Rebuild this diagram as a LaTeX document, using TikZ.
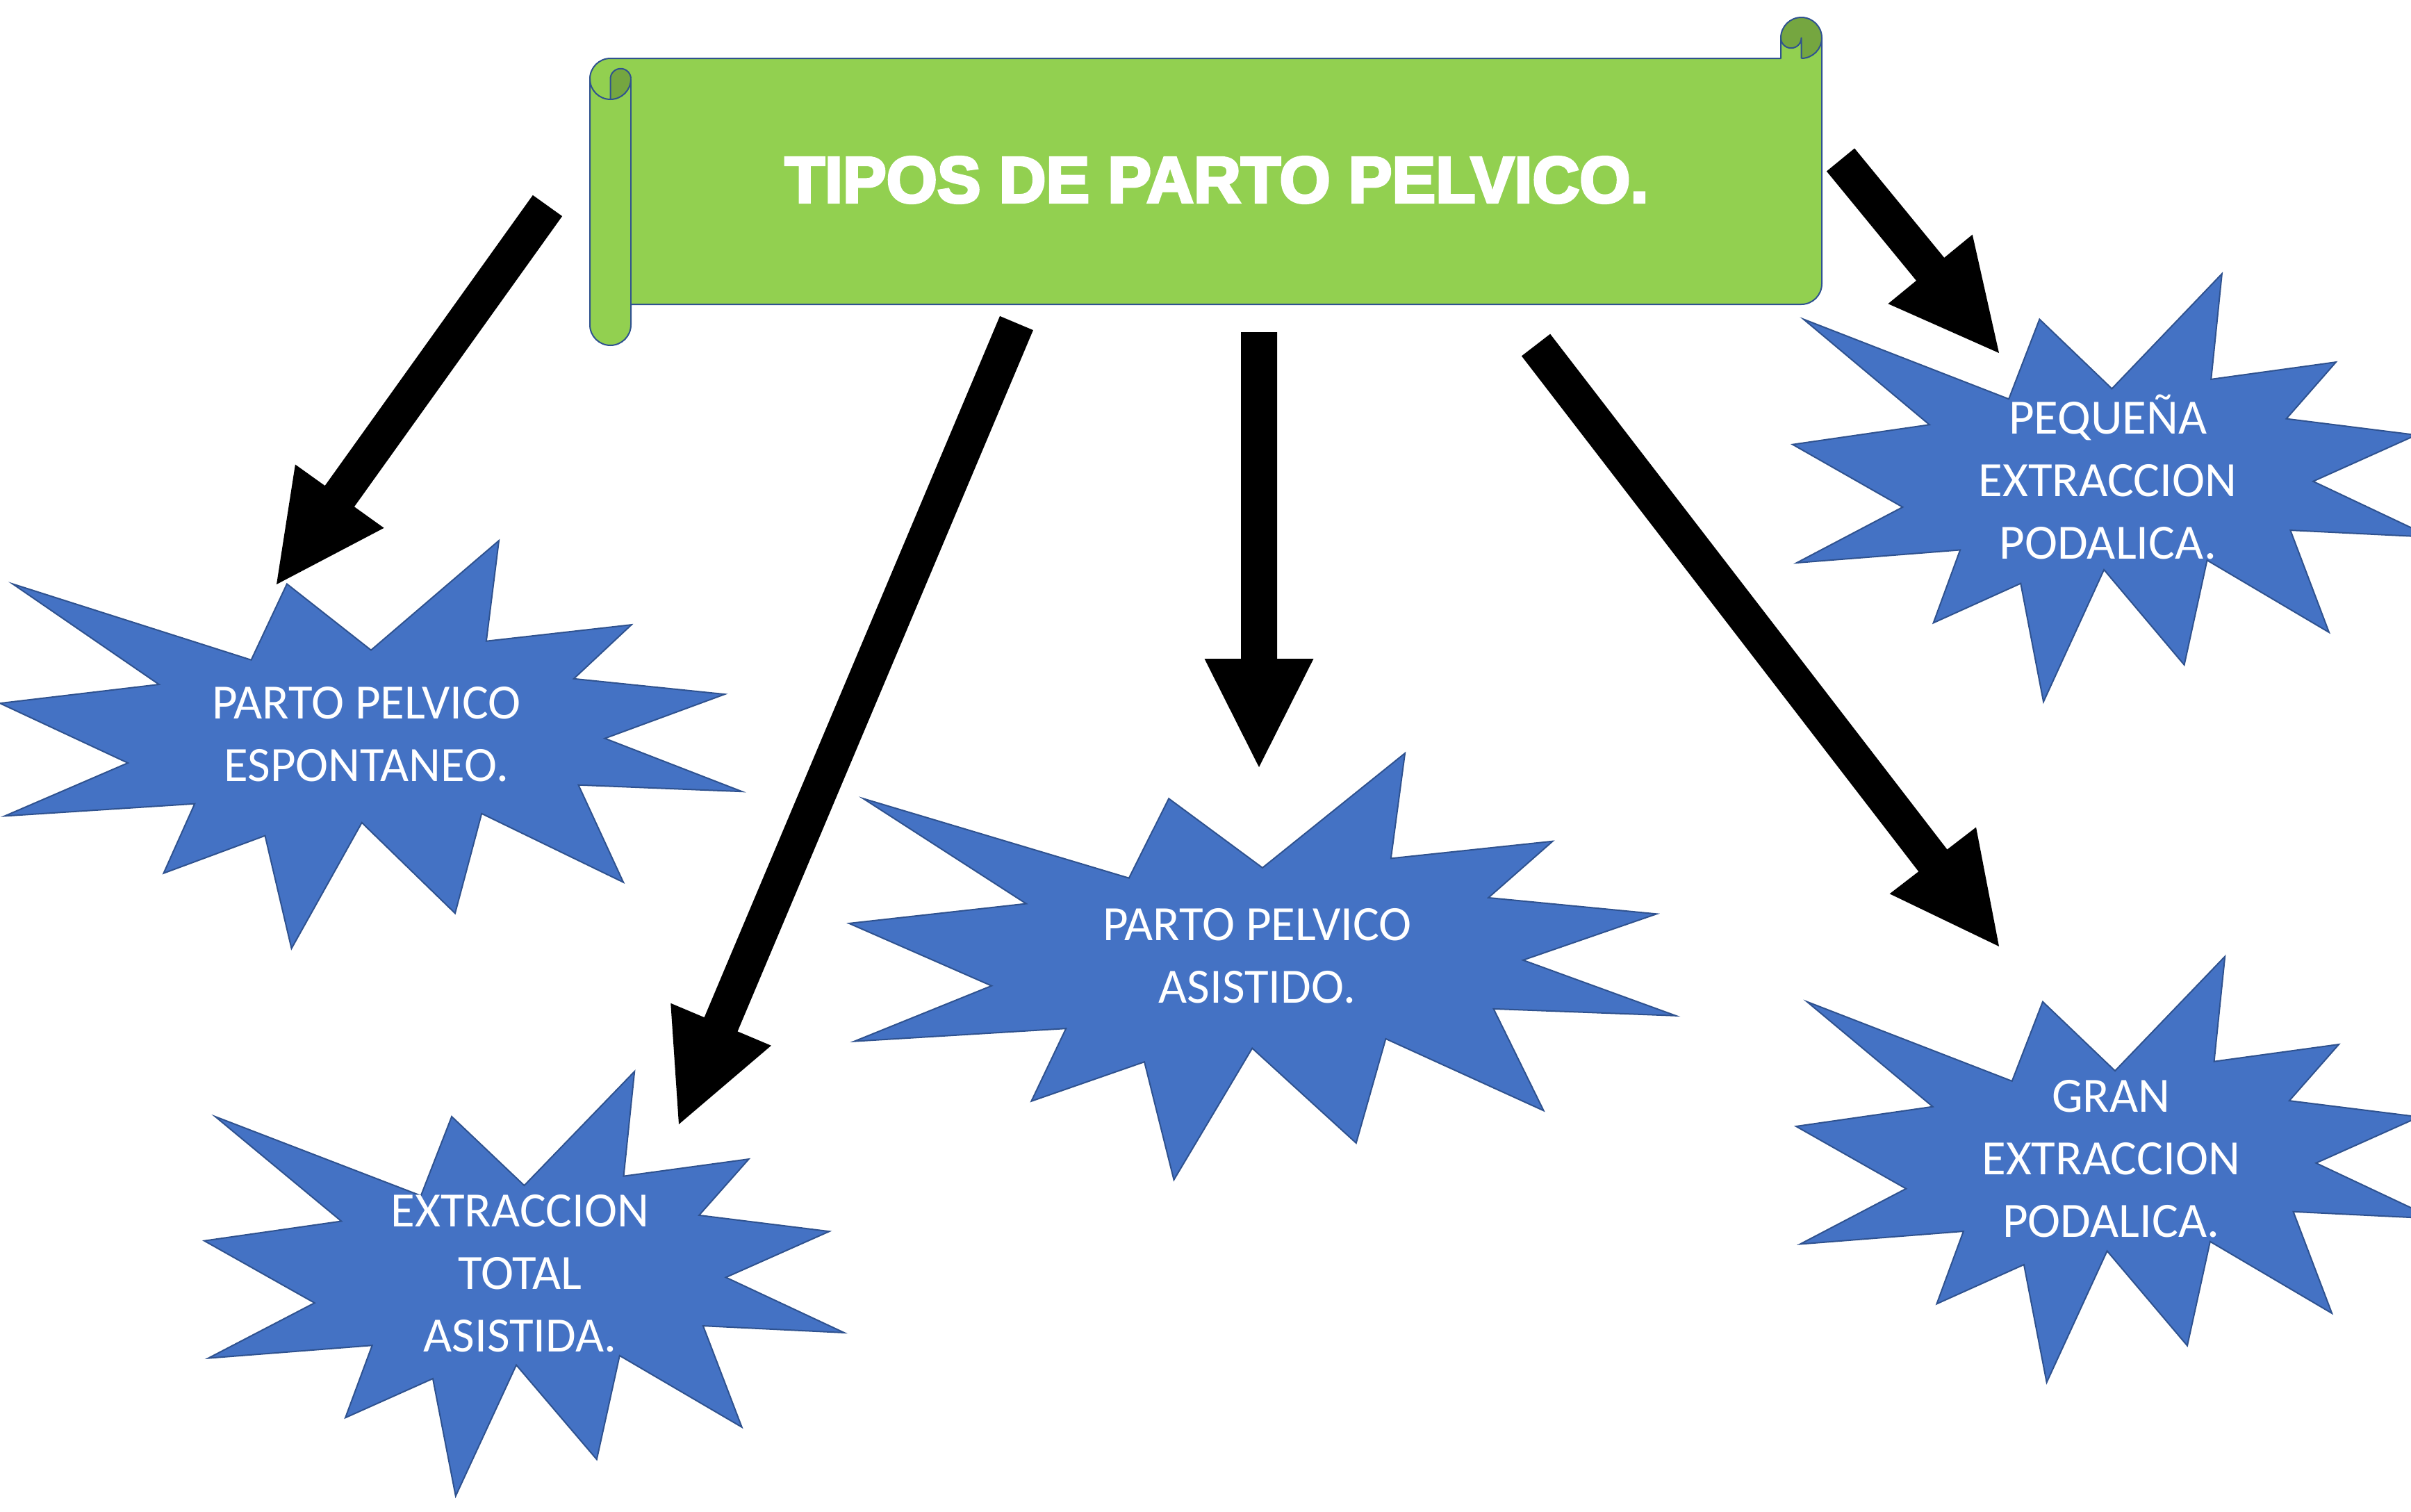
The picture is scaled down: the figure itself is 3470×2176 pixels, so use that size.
\documentclass[tikz,border=0pt]{standalone}
\usepackage{fontspec}
\usetikzlibrary{calc}
\newfontfamily\starfont{Carlito}
\newfontfamily\titlefont{Liberation Sans}[BoldFeatures={FakeBold=4}]
\definecolor{starblue}{HTML}{4472C4}
\definecolor{edgeblue}{HTML}{2F528F}
\definecolor{scrollgreen}{HTML}{92D050}
\definecolor{scrolldark}{HTML}{75A640}
\tikzset{
  sealshape/.style={fill=starblue, draw=edgeblue, line width=2pt, line join=miter},
  startext/.style={text=white, font=\starfont\fontsize{71}{90}\selectfont, align=center, inner sep=0pt, yshift=-4pt},
  titletext/.style={text=white, font=\titlefont\bfseries\fontsize{94}{110}\selectfont, inner sep=0pt},
  scrollfill/.style={fill=scrollgreen},
  scrolldarkfill/.style={fill=scrolldark},
  scrolledge/.style={draw=edgeblue, line width=2pt, line join=round},
  blockarrow/.style={fill=black},
}
% explosion shape in a 216 x 216 box, scaled to width #3 and height #4 at (#1,#2)
\newcommand\sealshape[4]{%
  \begin{scope}[shift={(#1,#2)}, xscale=#3/216, yscale=#4/216]
    \path[sealshape] (108,58) -- (145.22,0) -- (141.55,53.25) -- (183.80,44.57)
      -- (167.02,73.15) -- (210.97,81.37) -- (176.07,104.75) -- (216,132.90)
      -- (168.37,129.42) -- (181.45,180.95) -- (140.20,144.57) -- (132.47,197.37)
      -- (105.32,149.35) -- (84.85,216) -- (77.15,156.27) -- (47.62,176.17)
      -- (56.67,139.37) -- (1.35,145.87) -- (37.22,117.75) -- (0,86.15)
      -- (46.27,76.17) -- (3.70,22.95) -- (73.12,63.20) -- (83.52,22.95) -- cycle;
  \end{scope}}
% block arrow from coordinate #1 (tail) to coordinate #2 (tip)
\newcommand\barrow[2]{%
  \coordinate (#1h) at ($(#2)!156pt!(#1)$);
  \fill[blockarrow] ($(#1)!26pt!90:(#2)$) -- ($(#1h)!26pt!90:(#2)$)
    -- ($(#1h)!78.5pt!90:(#2)$) -- (#2) -- ($(#1h)!78.5pt!-90:(#2)$)
    -- ($(#1h)!26pt!-90:(#2)$) -- ($(#1)!26pt!-90:(#2)$) -- cycle;}
\begin{document}
\begin{tikzpicture}[x=1pt, y=-1pt]
\useasboundingbox (0,0) rectangle (3470,2176);
\clip (0,0) rectangle (3470,2176);

% ---------- scroll banner ----------
\path[scrollfill] (878.5,497) arc[start angle=90,end angle=180,radius=29.5]
  -- (849,113.5) arc[start angle=180,end angle=270,radius=29.5]
  -- (2563,84) -- (2563,54.5) arc[start angle=180,end angle=360,radius=29.5]
  -- (2622,408.5) arc[start angle=0,end angle=90,radius=29.5]
  -- (908,438) -- (908,467.5) arc[start angle=0,end angle=90,radius=29.5] -- cycle;
\path[scrolldarkfill] (878.5,113.5) arc[start angle=180,end angle=360,radius=14.75]
  arc[start angle=0,end angle=90,radius=29.5] -- cycle;
\path[scrolldarkfill] (2563,54.5) arc[start angle=180,end angle=360,radius=29.5]
  arc[start angle=0,end angle=90,radius=29.5] -- (2592.5,54.5)
  arc[start angle=0,end angle=180,radius=14.75] -- cycle;
\path[scrolledge] (878.5,497) arc[start angle=90,end angle=180,radius=29.5]
  -- (849,113.5) arc[start angle=180,end angle=270,radius=29.5]
  -- (2563,84) -- (2563,54.5) arc[start angle=180,end angle=360,radius=29.5]
  -- (2622,408.5) arc[start angle=0,end angle=90,radius=29.5]
  -- (908,438) -- (908,467.5) arc[start angle=0,end angle=90,radius=29.5] -- cycle;
\path[scrolledge] (908,113.5) -- (908,438);
\path[scrolledge] (849,113.5) arc[start angle=180,end angle=0,radius=29.5];
\path[scrolledge] (878.5,143) -- (878.5,113.5) arc[start angle=180,end angle=360,radius=14.75];
\path[scrolledge] (2563,54.5) arc[start angle=180,end angle=0,radius=14.75] -- (2592.5,84);
\path[scrolledge] (2622,54.5) arc[start angle=0,end angle=90,radius=29.5];
\node[titletext] (title) at (1751,259) {TIPOS DE PARTO PELVICO.};

% ---------- explosions ----------
\sealshape{0}{778}{1068}{587}
\sealshape{1222}{1084}{1190}{614}
\sealshape{2580}{394}{919}{616}
\sealshape{294}{1542}{921}{611}
\sealshape{2585}{1376.5}{918}{613}

\node[startext] (espontaneo) at (527.3,1053.2) {PARTO PELVICO\\ESPONTANEO.};
\node[startext] (asistido) at (1809.5,1371.9) {PARTO PELVICO\\ASISTIDO.};
\node[startext] (pequena) at (3033.7,682.8) {PEQUEÑA\\EXTRACCION\\PODALICA.};
\node[startext] (total) at (748.7,1828.5) {EXTRACCION\\TOTAL\\ASISTIDA.};
\node[startext] (gran) at (3038.2,1663.9) {GRAN\\EXTRACCION\\PODALICA.};

% ---------- block arrows ----------
\coordinate (a1s) at (788,296);    \coordinate (a1t) at (398,841);
\coordinate (a2s) at (1463,465);   \coordinate (a2t) at (977,1618);
\coordinate (a3s) at (1812,478);   \coordinate (a3t) at (1812,1104);
\coordinate (a4s) at (2210.5,496.5); \coordinate (a4t) at (2877,1362);
\coordinate (a5s) at (2649,230);   \coordinate (a5t) at (2877,508);
\barrow{a1s}{a1t}
\barrow{a2s}{a2t}
\barrow{a3s}{a3t}
\barrow{a4s}{a4t}
\barrow{a5s}{a5t}
\end{tikzpicture}
\end{document}
